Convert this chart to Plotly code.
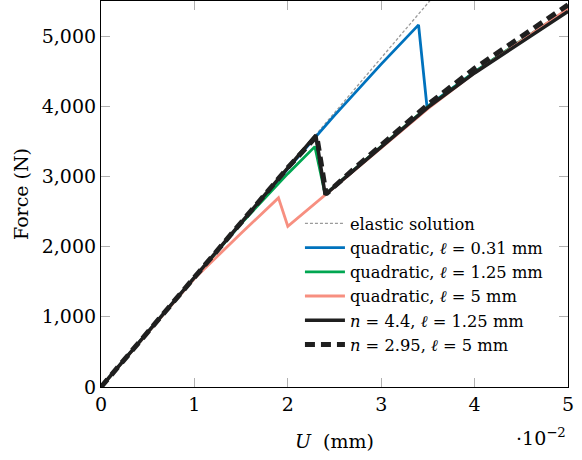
import plotly.graph_objects as go

# Displacement U in units of 1e-2 mm, force in N
elastic_U = [0.0, 5.0]
elastic_F = [0.0, 7815.0]

quad031_U = [0.0, 1.0, 2.0, 2.5, 3.0, 3.40, 3.49, 4.0, 4.5, 5.0]
quad031_F = [0.0, 1560.0, 3110.0, 3870.0, 4600.0, 5160.0, 3995.0, 4490.0, 4935.0, 5375.0]

quad125_U = [0.0, 1.0, 1.5, 2.0, 2.29, 2.40, 2.7, 3.0, 3.5, 4.0, 4.5, 5.0]
quad125_F = [0.0, 1560.0, 2330.0, 3040.0, 3425.0, 2745.0, 3085.0, 3425.0, 3995.0, 4490.0, 4935.0, 5380.0]

quad5_U = [0.0, 0.5, 1.0, 1.5, 1.90, 2.00, 2.38, 2.7, 3.0, 3.5, 4.0, 4.5, 5.0]
quad5_F = [0.0, 780.0, 1545.0, 2190.0, 2695.0, 2290.0, 2715.0, 3060.0, 3400.0, 3965.0, 4475.0, 4935.0, 5390.0]

n44_U = [0.0, 1.0, 2.0, 2.30, 2.40, 2.7, 3.0, 3.5, 4.0, 4.5, 5.0]
n44_F = [0.0, 1563.0, 3125.0, 3590.0, 2740.0, 3080.0, 3420.0, 3985.0, 4475.0, 4915.0, 5350.0]

n295_U = [0.0, 1.0, 2.0, 2.31, 2.41, 2.7, 3.0, 3.5, 4.0, 4.5, 5.0]
n295_F = [0.0, 1563.0, 3125.0, 3575.0, 2750.0, 3100.0, 3445.0, 4025.0, 4540.0, 5000.0, 5445.0]

x_ticks = [0, 1, 2, 3, 4, 5]
y_ticks = [0, 1000, 2000, 3000, 4000, 5000]

FONT = "DejaVu Serif"

fig = go.Figure()
fig.add_trace(go.Scatter(x=elastic_U, y=elastic_F, mode="lines",
                         line=dict(color="#9a9a9a", width=1.3, dash="3px,2px"),
                         name="elastic solution"))
fig.add_trace(go.Scatter(x=quad031_U, y=quad031_F, mode="lines",
                         line=dict(color="rgb(0,114,189)", width=2.8),
                         name="quadratic, <i>ℓ</i> = 0.31 mm"))
fig.add_trace(go.Scatter(x=quad125_U, y=quad125_F, mode="lines",
                         line=dict(color="rgb(0,166,81)", width=2.8),
                         name="quadratic, <i>ℓ</i> = 1.25 mm"))
fig.add_trace(go.Scatter(x=quad5_U, y=quad5_F, mode="lines",
                         line=dict(color="rgb(247,143,128)", width=2.8),
                         name="quadratic, <i>ℓ</i> = 5 mm"))
fig.add_trace(go.Scatter(x=n44_U, y=n44_F, mode="lines",
                         line=dict(color="#1f1f1f", width=3.5),
                         name="<i>n</i> = 4.4, <i>ℓ</i> = 1.25 mm"))
fig.add_trace(go.Scatter(x=n295_U, y=n295_F, mode="lines",
                         line=dict(color="#1f1f1f", width=5, dash="10px,6px"),
                         name="<i>n</i> = 2.95, <i>ℓ</i> = 5 mm"))

axis_common = dict(showline=True, linecolor="black", linewidth=1.2, mirror="allticks",
                   ticks="inside", ticklen=9, tickcolor="#b0b0b0", tickwidth=1,
                   showgrid=False, zeroline=False,
                   tickfont=dict(family=FONT, size=19, color="black"))

fig.update_xaxes(range=[0, 5], tickvals=x_ticks, ticktext=[str(v) for v in x_ticks],
                 title=dict(text="<i>U</i>  (mm)", font=dict(family=FONT, size=19, color="black"),
                            standoff=20),
                 **axis_common)
fig.update_yaxes(range=[0, 5500], tickvals=y_ticks, tickformat=",d",
                 title=dict(text="Force (N)", font=dict(family=FONT, size=19, color="black"),
                            standoff=8),
                 **axis_common)

fig.add_annotation(text="·10<sup>−2</sup>", xref="paper", yref="paper", x=1.0, y=0,
                   xanchor="right", yanchor="top", yshift=-36, showarrow=False,
                   font=dict(family=FONT, size=19, color="black"))

fig.update_layout(
    width=582, height=460,
    margin=dict(l=101, r=14, t=1, b=73),
    paper_bgcolor="white", plot_bgcolor="white",
    separators=".,",
    legend=dict(x=0.426, y=0.468, xanchor="left", yanchor="top",
                bgcolor="rgba(255,255,255,0)", borderwidth=0,
                font=dict(family=FONT, size=16.3, color="black"),
                tracegroupgap=0, itemwidth=40),
    showlegend=True,
)

fig.write_html("out.html", config={"displayModeBar": False},
               post_script="document.body.style.margin='0';")
